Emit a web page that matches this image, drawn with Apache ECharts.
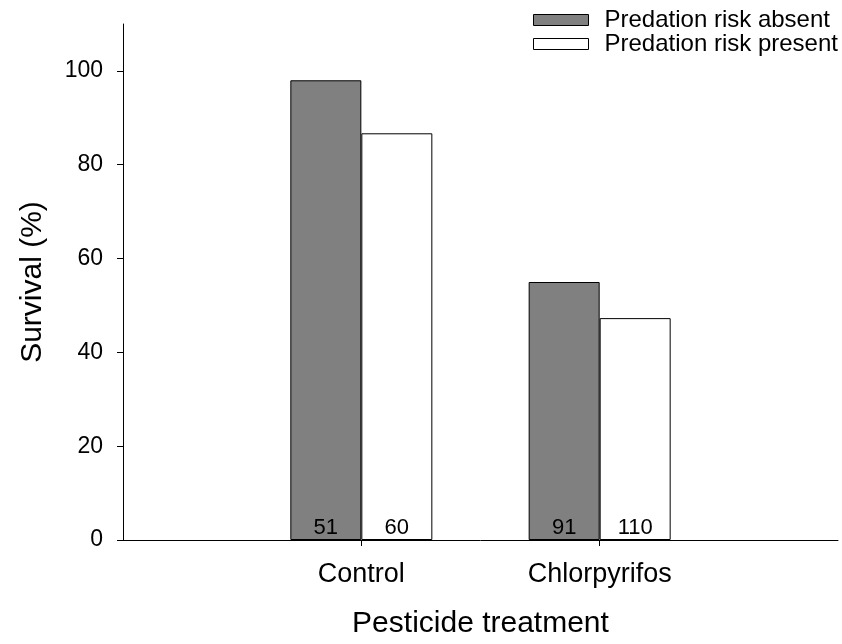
<!DOCTYPE html>
<html>
<head>
<meta charset="utf-8">
<script src="https://cdn.jsdelivr.net/npm/echarts@6/dist/echarts.min.js"></script>
<style>html,body{margin:0;padding:0;background:#fff}#c{width:842px;height:644px}</style>
</head>
<body>
<div id="c"></div>
<script>
const categories = ['', 'Control', 'Chlorpyrifos', ''];
const absentValues = [null, 98.0, 55.0, null];
const presentValues = [null, 86.7, 47.3, null];
const absentN = [null, 51, 91, null];
const presentN = [null, 60, 110, null];
const yTicks = [0, 20, 40, 60, 80, 100];
const seriesNames = ['Predation risk absent', 'Predation risk present'];

const FONT = 'Liberation Sans, Arial, sans-serif';
const chart = echarts.init(document.getElementById('c'), null, {renderer: 'canvas'});
chart.setOption({
  animation: false,
  backgroundColor: '#fff',
  textStyle: {fontFamily: FONT, color: '#000'},
  legend: {
    orient: 'vertical',
    left: 533, top: 8,
    padding: 0,
    icon: 'rect',
    itemWidth: 55, itemHeight: 11,
    itemGap: 0,
    itemStyle: {borderColor: '#000', borderWidth: 1},
    textStyle: {fontFamily: FONT, fontSize: 24, color: '#000', lineHeight: 23, padding: [0,0,0,11]},
    data: seriesNames
  },
  grid: {left: 123, right: 4, top: 24, bottom: 104, containLabel: false},
  xAxis: {
    type: 'category',
    data: categories,
    boundaryGap: false,
    name: 'Pesticide treatment',
    nameLocation: 'middle',
    nameGap: 69,
    nameTextStyle: {fontFamily: FONT, fontSize: 30, color: '#000'},
    axisLine: {lineStyle: {color: '#000', width: 1}},
    axisTick: {show: true, length: 6, inside: false, lineStyle: {color: '#000'},
      interval: function (i, v) { return v !== ''; }},
    axisLabel: {fontFamily: FONT, fontSize: 27, color: '#000', margin: 21, interval: 0},
    splitLine: {show: false}
  },
  yAxis: {
    type: 'value',
    min: 0, max: 110, interval: 20,
    name: 'Survival (%)',
    nameLocation: 'middle',
    nameGap: 75,
    nameRotate: 90,
    nameTextStyle: {fontFamily: FONT, fontSize: 30, color: '#000'},
    axisLine: {show: true, lineStyle: {color: '#000', width: 1}},
    axisTick: {show: true, length: 6, inside: false, lineStyle: {color: '#000'}, customValues: yTicks},
    axisLabel: {fontFamily: FONT, fontSize: 23, color: '#000', margin: 20, customValues: yTicks},
    splitLine: {show: false}
  },
  series: [
    {
      name: seriesNames[0], type: 'bar', data: absentValues,
      barWidth: 71, barGap: '0%',
      itemStyle: {color: '#808080', borderColor: '#000', borderWidth: 1},
      label: {show: true, position: 'insideBottom', distance: 1, fontFamily: FONT, fontSize: 22, color: '#000',
        formatter: p => absentN[p.dataIndex] == null ? '' : String(absentN[p.dataIndex])}
    },
    {
      name: seriesNames[1], type: 'bar', data: presentValues,
      barWidth: 71, barGap: '0%',
      itemStyle: {color: '#ffffff', borderColor: '#000', borderWidth: 1},
      label: {show: true, position: 'insideBottom', distance: 1, fontFamily: FONT, fontSize: 22, color: '#000',
        formatter: p => presentN[p.dataIndex] == null ? '' : String(presentN[p.dataIndex])}
    }
  ]
});
</script>
</body>
</html>
